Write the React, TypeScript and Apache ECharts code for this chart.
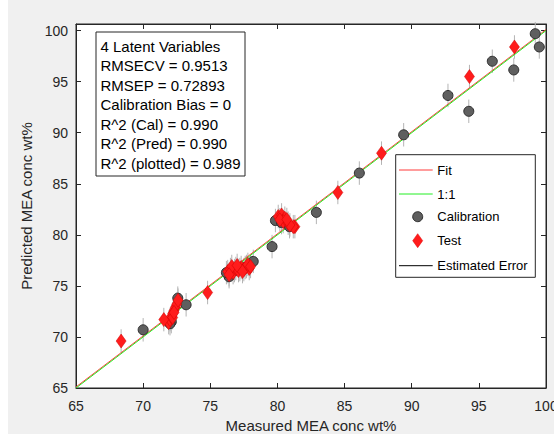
import React, { useEffect, useRef } from "react";
import * as echarts from "echarts";

const X_TICKS = [65, 70, 75, 80, 85, 90, 95, 100];
const Y_TICKS = [65, 70, 75, 80, 85, 90, 95, 100];

const CAL_X = [99.2, 99.5, 97.6, 96.0, 94.25, 92.7, 89.4, 86.1, 82.9, 79.6, 79.85, 80.3, 80.9, 78.2, 76.4, 76.2, 77.2, 77.6, 76.8, 73.2, 72.58, 72.1, 72.0, 70.0];
const CAL_Y = [99.7, 98.4, 96.15, 97.0, 92.1, 93.65, 89.8, 86.05, 82.2, 78.85, 81.4, 81.2, 80.8, 77.4, 75.9, 76.3, 76.6, 76.8, 76.5, 73.15, 73.8, 71.5, 71.3, 70.7];

const TEST_X = [97.65, 94.3, 87.75, 84.5, 81.3, 80.06, 80.31, 80.55, 80.43, 80.8, 81.18, 80.93, 80.18, 80.7,
  76.3, 76.5, 76.7, 76.9, 77.1, 77.3, 77.5, 77.7, 77.9, 76.6, 77.0, 77.4, 77.8, 76.4, 78.0,
  74.8, 71.9, 72.0, 72.1, 72.2, 72.3, 72.4, 72.5, 72.6, 72.2, 72.3, 71.54, 68.36];
const TEST_Y = [98.4, 95.5, 88.0, 84.15, 80.8, 81.8, 81.95, 81.63, 81.3, 81.14, 80.8, 80.97, 81.47, 81.5,
  76.4, 76.6, 76.3, 76.7, 76.5, 76.8, 76.6, 76.9, 76.7, 76.9, 77.0, 76.4, 77.1, 76.1, 76.9,
  74.35, 71.4, 71.7, 72.0, 72.3, 72.6, 72.9, 73.2, 73.6, 71.9, 72.4, 71.7, 69.6];

const EST_ERROR = 1.15;
const FIT_LINE = [[65, 65.1], [100, 100.1]];
const ONE_TO_ONE = [[65, 65], [100, 100]];

const STATS_LINES = [
  "4 Latent Variables",
  "RMSECV = 0.9513",
  "RMSEP = 0.72893",
  "Calibration Bias = 0",
  "R^2 (Cal) = 0.990",
  "R^2 (Pred) = 0.990",
  "R^2 (plotted) = 0.989",
];
const LEGEND_LABELS = ["Fit", "1:1", "Calibration", "Test", "Estimated Error"];

const FONT = "'Liberation Sans', Arial, Helvetica, sans-serif";
const AX = "#262626";

export default function App() {
  const ref = useRef<HTMLDivElement>(null);
  useEffect(() => {
    if (!ref.current) return;
    const chart = echarts.init(ref.current, undefined, { renderer: "svg" });
    const cal = CAL_X.map((x, i) => [x, CAL_Y[i]]);
    const test = TEST_X.map((x, i) => [x, TEST_Y[i]]);
    const all = cal.concat(test);

    const fmt = (v: number) => (X_TICKS.includes(Math.round(v * 1000) / 1000) ? String(v) : "");
    const fmtY = (v: number) => (Y_TICKS.includes(Math.round(v * 1000) / 1000) ? String(v) : "");

    const baseAxis = {
      axisLine: { show: true, lineStyle: { color: AX, width: 1 } },
      axisTick: { show: true, inside: true, length: 5, lineStyle: { color: AX } },
      splitLine: { show: false },
    };

    const legY = [170, 194, 216.7, 240.7, 265.7];
    const lx0 = 391, lx1 = 424.7, mx = 409.7, tx = 429.3;

    const graphic: any[] = [
      { type: "rect", shape: { x: 88, y: 32, width: 149, height: 144 }, style: { fill: "#fff", stroke: AX, lineWidth: 1 }, z: 100 },
      ...STATS_LINES.map((t, i) => ({
        type: "text", x: 92.5, y: 46 + i * 19.55, z: 101,
        style: { text: t, font: `15px ${FONT}`, fill: "#000", verticalAlign: "middle" },
      })),
      { type: "rect", shape: { x: 387.7, y: 154.7, width: 139.6, height: 122.6 }, style: { fill: "#fff", stroke: AX, lineWidth: 1 }, z: 100 },
      { type: "line", shape: { x1: lx0, y1: legY[0], x2: lx1, y2: legY[0] }, style: { stroke: "#ff3b3b", lineWidth: 1 }, z: 101 },
      { type: "line", shape: { x1: lx0, y1: legY[1], x2: lx1, y2: legY[1] }, style: { stroke: "#22ee22", lineWidth: 1 }, z: 101 },
      { type: "circle", shape: { cx: mx, cy: legY[2], r: 5 }, style: { fill: "#5f5f5f", stroke: "#2e2e2e", lineWidth: 1 }, z: 101 },
      { type: "polygon", shape: { points: [[mx, legY[3] - 7], [mx + 5, legY[3]], [mx, legY[3] + 7], [mx - 5, legY[3]]] }, style: { fill: "#ff1c1c", stroke: "#e00000", lineWidth: 0.5 }, z: 101 },
      { type: "line", shape: { x1: lx0, y1: legY[4], x2: lx1, y2: legY[4] }, style: { stroke: "#000", lineWidth: 1 }, z: 101 },
      ...LEGEND_LABELS.map((t, i) => ({
        type: "text", x: tx, y: legY[i], z: 101,
        style: { text: t, font: `13px ${FONT}`, fill: "#000", verticalAlign: "middle" },
      })),
    ];

    chart.setOption({
      animation: false,
      backgroundColor: "#f0f0f0",
      grid: {
        left: 68, right: 8, top: 24, bottom: 46, show: true, backgroundColor: "#fff",
        borderColor: AX, borderWidth: 1, containLabel: false, outerBoundsMode: "none",
      },
      xAxis: [
        {
          ...baseAxis, type: "value", min: 65, max: 100, interval: 5, position: "bottom",
          name: "Measured MEA conc wt%", nameLocation: "middle", nameGap: 29,
          nameTextStyle: { fontFamily: FONT, fontSize: 15, color: AX },
          axisLabel: { fontFamily: FONT, fontSize: 14, color: AX, margin: 11, formatter: fmt },
        },
        {
          ...baseAxis, type: "value", min: 65, max: 100, interval: 5, position: "top",
          axisLabel: { show: false },
        },
      ],
      yAxis: [
        {
          ...baseAxis, type: "value", min: 65, max: 100.65, interval: 5, position: "left",
          name: "Predicted MEA conc wt%", nameLocation: "middle", nameGap: 36,
          nameTextStyle: { fontFamily: FONT, fontSize: 15, color: AX },
          axisLabel: { fontFamily: FONT, fontSize: 14, color: AX, margin: 8, formatter: fmtY, showMaxLabel: false },
        },
        {
          ...baseAxis, type: "value", min: 65, max: 100.65, interval: 5, position: "right",
          axisLabel: { show: false },
        },
      ],
      series: [
        {
          type: "custom", name: "Estimated Error", xAxisIndex: 0, yAxisIndex: 0,
          data: all,
          renderItem: (params: any, api: any) => {
            const x = api.value(0), y = api.value(1);
            const p1 = api.coord([x, y - EST_ERROR]);
            const p2 = api.coord([x, y + EST_ERROR]);
            return { type: "line", shape: { x1: p1[0], y1: p1[1], x2: p2[0], y2: p2[1] }, style: { stroke: "#b4b4b4", lineWidth: 1 } };
          },
          z: 2,
        },
        {
          type: "line", name: "Fit", data: FIT_LINE, symbol: "none",
          lineStyle: { color: "#ff3b3b", width: 1 }, z: 3,
        },
        {
          type: "line", name: "1:1", data: ONE_TO_ONE, symbol: "none",
          lineStyle: { color: "#22ee22", width: 1 }, z: 3,
        },
        {
          type: "scatter", name: "Calibration", data: cal, symbol: "circle", symbolSize: 10,
          itemStyle: { color: "#5f5f5f", borderColor: "#2e2e2e", borderWidth: 1, opacity: 1 }, z: 4,
        },
        {
          type: "scatter", name: "Test", data: test, symbol: "diamond", symbolSize: [10, 14],
          itemStyle: { color: "#ff1c1c", borderColor: "#d00000", borderWidth: 0.5, opacity: 1 }, z: 5,
        },
      ],
      graphic,
    });
    return () => chart.dispose();
  }, []);
  return (
    <div
      ref={ref}
      style={{ position: "absolute", left: 8, top: 0, width: 546, height: 434 }}
    />
  );
}
